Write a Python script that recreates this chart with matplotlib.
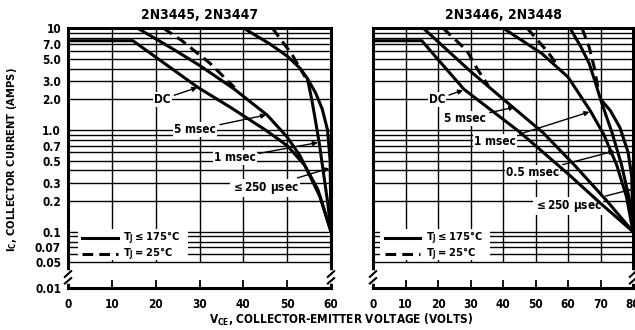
import matplotlib
matplotlib.use('Agg')
import matplotlib.pyplot as plt
import matplotlib.transforms as mtransforms
from matplotlib.patches import Rectangle
from matplotlib.ticker import NullLocator

plt.rcParams['font.family'] = ['DejaVu Sans']
plt.rcParams['font.stretch'] = 'condensed'
plt.rcParams['font.weight'] = 'bold'
plt.rcParams['mathtext.default'] = 'bf'

# ---- 2N3445, 2N3447 (60 V) ----
l_dc_v = [0, 14.8, 29.7, 37, 45, 50, 54, 57, 60]
l_dc_i = [7.5, 7.5, 2.6, 1.67, 1.0, 0.7, 0.45, 0.26, 0.1]
l_5ms_v = [15.8, 24, 30.1, 38, 45.4, 50, 53, 57.5, 60]
l_5ms_i = [10, 6.2, 4.27, 2.5, 1.4, 0.85, 0.55, 0.22, 0.1]
l_5ms_d_v = [21.7, 26, 32.4, 38]
l_5ms_d_i = [10, 7.5, 4.5, 2.6]
l_1ms_v = [40, 46, 50, 53, 54.6, 55.6, 56.5, 57.3, 58.2, 59.2, 60]
l_1ms_i = [10, 7.0, 5.3, 4.0, 3.2, 2.0, 1.2, 0.75, 0.4, 0.2, 0.1]
l_1ms_d_v = [46.6, 51.1, 54.1]
l_1ms_d_i = [10, 5.5, 3.3]
l_250_v = [54.6, 56.5, 58, 59.2, 59.8, 60]
l_250_i = [3.2, 2.3, 1.6, 1.0, 0.5, 0.1]

# ---- 2N3446, 2N3448 (80 V) ----
r_dc_v = [0, 15, 28, 45, 60, 70, 80]
r_dc_i = [7.5, 7.5, 2.5, 0.96, 0.37, 0.19, 0.1]
r_5ms_v = [15.4, 29.8, 43, 52.3, 62, 72, 80]
r_5ms_i = [10, 3.8, 1.67, 0.94, 0.45, 0.2, 0.1]
r_5ms_d_v = [21.5, 28.9, 32, 35.5]
r_5ms_d_i = [10, 6.0, 4.0, 2.7]
r_1ms_v = [40, 52, 60, 66.8, 71, 75, 78, 80]
r_1ms_i = [10, 5.6, 3.3, 1.55, 0.9, 0.45, 0.22, 0.1]
r_1ms_d_v = [47.4, 53.8, 57]
r_1ms_d_i = [10, 5.8, 4.2]
r_05ms_v = [60.6, 64, 66.5, 68.3, 70, 72, 73.5, 76.5, 79, 80]
r_05ms_i = [10, 6.5, 4.5, 3.0, 2.0, 1.3, 0.95, 0.45, 0.2, 0.1]
r_05ms_d_v = [64.3, 66.5, 68, 69.2]
r_05ms_d_i = [10, 6.5, 4.2, 2.6]
r_250_v = [70, 73, 76, 78.5, 79.6, 80]
r_250_i = [2.0, 1.55, 1.05, 0.6, 0.35, 0.1]

ytick_vals = [10, 7, 5, 3, 2, 1, 0.7, 0.5, 0.3, 0.2, 0.1, 0.07, 0.05, 0.028]
ytick_labels = ['10', '7.0', '5.0', '3.0', '2.0', '1.0', '0.7', '0.5', '0.3', '0.2',
                '0.1', '0.07', '0.05', '0.01']
hgrid_vals = [0.05, 0.06, 0.07, 0.08, 0.09, 0.1, 0.2, 0.3, 0.4, 0.5, 0.6, 0.7, 0.8, 0.9,
              1, 2, 3, 4, 5, 6, 7, 8, 9, 10]

W, H = 635, 330
fig = plt.figure(figsize=(6.35, 3.3), dpi=100, facecolor='white')
axL = fig.add_axes([68 / W, 42 / H, 263 / W, 260 / H])
axR = fig.add_axes([373 / W, 42 / H, 260 / W, 260 / H])

LW = 2.2
DASH = (0, (3.5, 2))


def setup(ax, vmax, ylabels):
    ax.set_yscale('log')
    ax.set_ylim(0.028, 10)
    ax.set_xlim(0, vmax)
    for v in hgrid_vals:
        ax.axhline(v, color='k', lw=1.0, zorder=1)
    ax.vlines(range(10, vmax, 10), 0.05, 10, color='k', lw=1.0, zorder=1)
    ax.set_yticks(ytick_vals)
    ax.yaxis.set_minor_locator(NullLocator())
    if ylabels:
        ax.set_yticklabels(ytick_labels, fontsize=8.5, fontweight='bold')
    else:
        ax.set_yticklabels([])
    ax.tick_params(axis='y', length=0, pad=5)
    ax.set_xticks(range(0, vmax + 1, 10))
    ax.set_xticklabels([str(v) for v in range(0, vmax + 1, 10)], fontsize=8.5, fontweight='bold')
    ax.tick_params(axis='x', direction='in', length=6, width=1.3, pad=7)
    for s in ax.spines.values():
        s.set_linewidth(LW)
    # axis break marks
    tr = mtransforms.blended_transform_factory(ax.transAxes, ax.transData)
    for xa in (0, 1):
        ax.plot([xa, xa], [0.033, 0.039], color='white', lw=4, transform=tr,
                clip_on=False, zorder=5)
        ax.plot([xa - 0.012, xa + 0.012], [0.031, 0.035], color='k', lw=1.5,
                transform=tr, clip_on=False, zorder=6)
        ax.plot([xa - 0.012, xa + 0.012], [0.036, 0.041], color='k', lw=1.5,
                transform=tr, clip_on=False, zorder=6)


def label(ax, text, tip, pos):
    ax.annotate(text, xy=tip, xytext=pos, ha='center', va='center', fontsize=8.5,
                fontweight='bold', zorder=3,
                bbox=dict(fc='white', ec='none', pad=0.8),
                arrowprops=dict(arrowstyle='-|>', color='k', lw=1.0,
                                mutation_scale=7, shrinkA=2, shrinkB=0))


def legend(ax, x0, x1, xt, xbox):
    ax.add_patch(Rectangle((xbox[0], 0.053), xbox[1] - xbox[0], 0.106 - 0.053,
                           fc='white', ec='none', zorder=2))
    ax.plot([x0, x1], [0.087, 0.087], color='k', lw=LW, zorder=3)
    ax.plot([x0, x1], [0.0605, 0.0605], color='k', lw=LW, ls=DASH, zorder=3)
    ax.text(xt, 0.087, 'T$_{J}$$\\leq$175°C', fontsize=8, va='center', zorder=3)
    ax.text(xt, 0.0605, 'T$_{J}$$=$25°C', fontsize=8, va='center', zorder=3)


setup(axL, 60, True)
setup(axR, 80, False)

# left panel curves
for v, i in [(l_dc_v, l_dc_i), (l_5ms_v, l_5ms_i), (l_1ms_v, l_1ms_i), (l_250_v, l_250_i)]:
    axL.plot(v, i, color='k', lw=LW, zorder=4, solid_capstyle='butt')
for v, i in [(l_5ms_d_v, l_5ms_d_i), (l_1ms_d_v, l_1ms_d_i)]:
    axL.plot(v, i, color='k', lw=LW, ls=DASH, zorder=4)

label(axL, 'DC', (29.5, 2.6), (21.5, 2.0))
label(axL, '5 msec', (45.2, 1.4), (29, 1.0))
label(axL, '1 msec', (57.0, 0.75), (38, 0.53))
label(axL, '$\\leq$250 $\\mu$sec', (59.6, 0.42), (45, 0.27))
legend(axL, 3.2, 11.4, 12.5, (2.3, 27.4))

# right panel curves
for v, i in [(r_dc_v, r_dc_i), (r_5ms_v, r_5ms_i), (r_1ms_v, r_1ms_i),
             (r_05ms_v, r_05ms_i), (r_250_v, r_250_i)]:
    axR.plot(v, i, color='k', lw=LW, zorder=4, solid_capstyle='butt')
for v, i in [(r_5ms_d_v, r_5ms_d_i), (r_1ms_d_v, r_1ms_d_i), (r_05ms_d_v, r_05ms_d_i)]:
    axR.plot(v, i, color='k', lw=LW, ls=DASH, zorder=4)

label(axR, 'DC', (27.7, 2.45), (19.7, 2.0))
label(axR, '5 msec', (43.5, 1.67), (28.3, 1.3))
label(axR, '1 msec', (66.6, 1.5), (37.5, 0.76))
label(axR, '0.5 msec', (74.3, 0.62), (49, 0.38))
label(axR, '$\\leq$250 $\\mu$sec', (79.5, 0.26), (60, 0.18))
legend(axR, 3.7, 14.5, 16.3, (2.2, 36))

fig.text(200 / W, 1 - 15 / H, '2N3445, 2N3447', ha='center', va='center',
         fontsize=10, fontweight='bold')
fig.text(503 / W, 1 - 15 / H, '2N3446, 2N3448', ha='center', va='center',
         fontsize=10, fontweight='bold')
fig.text(341 / W, 1 - 320 / H, 'V$_{CE}$, COLLECTOR-EMITTER VOLTAGE (VOLTS)',
         ha='center', va='center', fontsize=8.5, fontweight='bold')
fig.text(12 / W, 1 - 160 / H, 'I$_{C}$, COLLECTOR CURRENT (AMPS)', ha='center',
         va='center', rotation=90, fontsize=8, fontweight='bold')

fig.savefig('out.png', dpi=100, facecolor='white')
